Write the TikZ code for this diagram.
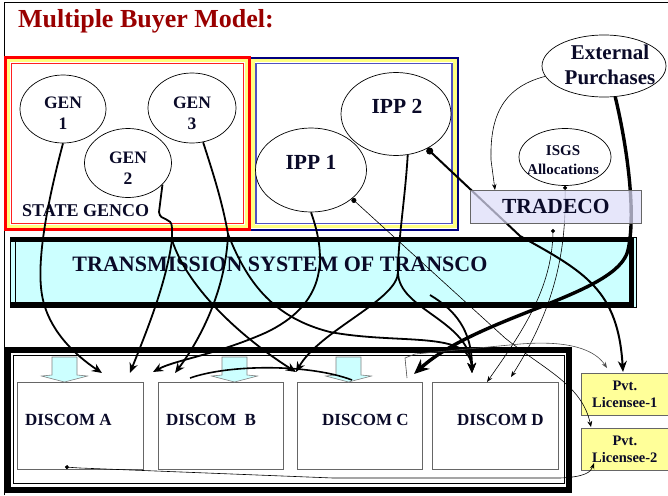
\documentclass[tikz,border=0pt]{standalone}
\usepackage{fontspec}
\setmainfont{Liberation Serif}
\usetikzlibrary{arrows.meta,shapes.geometric,calc}
\definecolor{titlered}{HTML}{990000}
\definecolor{ink}{HTML}{0A0A28}
\definecolor{cyanfill}{HTML}{CCFFFF}
\definecolor{paleyellow}{HTML}{FFFF99}
\definecolor{bandyellow}{HTML}{FFFF80}
\definecolor{lavender}{HTML}{DCDCF8}
\definecolor{navyline}{HTML}{000080}
\definecolor{blueline}{HTML}{5050C0}
\definecolor{framered}{HTML}{FF0000}
\definecolor{framepink}{HTML}{FF2020}
\begin{document}
\begin{tikzpicture}[x=1pt,y=-1pt,
  oval/.style={ellipse, draw=black, line width=0.7pt, fill=white, inner sep=0pt},
  lbl/.style={font=\bfseries, text=ink, align=center, inner sep=0pt},
  dbox/.style={draw=gray!80!black, line width=0.8pt, fill=white, minimum width=126pt, minimum height=87pt, anchor=north west, inner sep=0pt},
  pvt/.style={draw=gray!80!black, line width=0.7pt, fill=paleyellow, minimum width=87pt, minimum height=42pt, anchor=north west, inner sep=0pt, align=center, font=\fontsize{14.5}{17}\selectfont\bfseries, text=ink},
  trunk/.style={line width=1.8pt},
  conn/.style={line width=1.8pt, -{Stealth[length=10pt,width=8.5pt]}},
  bigconn/.style={line width=3.4pt, -{Stealth[length=15pt,width=13pt]}},
  thinconn/.style={line width=0.6pt, -{Stealth[length=6pt,width=4.5pt]}},
  blockarrow/.style={draw=gray, line width=0.6pt, fill=cyanfill}
]
\useasboundingbox (0,0) rectangle (668,495);
% outer frame
\draw[line width=0.8pt] (4,495) -- (4,2) -- (668,2);
% title
\node[anchor=base west, inner sep=0pt, text=titlered, font=\fontsize{26}{30}\selectfont\bfseries] (title) at (18,28) {Multiple Buyer Model:};

% IPP frame (blue)
\draw[line width=3.4pt, bandyellow] (253,60.5) rectangle (455,226.5);
\draw[line width=2pt, navyline] (250,57.5) rectangle (458,229.5);
\draw[line width=1.8pt, blueline] (256,63.5) rectangle (452,223.5);
% STATE GENCO frame (red)
\draw[line width=3.4pt, bandyellow] (8.5,60.5) rectangle (246.5,226.5);
\draw[line width=2.2pt, framered] (5.5,57.5) rectangle (249.5,229.5);
\draw[line width=1.8pt, framepink] (11.5,63.5) rectangle (243.5,223.5);

% generators
\node[oval, minimum width=86pt, minimum height=68pt] (gen1) at (63,109) {};
\node[oval, minimum width=88pt, minimum height=70pt] (gen3) at (192,108) {};
\node[oval, minimum width=87pt, minimum height=69pt] (gen2) at (128,163) {};
\node[lbl, font=\fontsize{17.5}{21}\selectfont\bfseries] (gen1t) at (63,113) {GEN\\1};
\node[lbl, font=\fontsize{17.5}{21}\selectfont\bfseries] (gen2t) at (128,168) {GEN\\2};
\node[lbl, font=\fontsize{17.5}{21}\selectfont\bfseries] (gen3t) at (192,113) {GEN\\3};
\node[anchor=base west, inner sep=0pt, text=ink, font=\fontsize{18}{21}\selectfont\bfseries] (genco) at (22,216) {STATE GENCO};

\node[oval, minimum width=111pt, minimum height=84pt] (ipp1) at (311,170) {};
\node[oval, minimum width=110pt, minimum height=83pt] (ipp2) at (396,114) {};
\node[lbl, font=\fontsize{21.5}{24}\selectfont\bfseries] (ipp1t) at (311,162) {IPP 1};
\node[lbl, font=\fontsize{21.5}{24}\selectfont\bfseries] (ipp2t) at (397,106) {IPP 2};

\node[oval, minimum width=124pt, minimum height=62pt] (ext) at (604,66) {};
\node[lbl, font=\fontsize{21}{25}\selectfont\bfseries] (extt) at (610,65) {External\\Purchases};
\node[oval, minimum width=92pt, minimum height=57pt] (isgs) at (565,157) {};
\node[lbl, font=\fontsize{15}{19}\selectfont\bfseries] (isgst) at (563,160) {ISGS\\Allocations};

% TRANSCO
\fill[cyanfill] (10,237) rectangle (636,307);
\draw[line width=0.6pt] (10,237) rectangle (636,307);
\draw[line width=5pt, line join=miter] (10,239.5) -- (631,239.5) -- (631,304.5) -- (10,304.5);
\draw[line width=0.6pt] (15,240) -- (15,305);
\node[lbl, font=\fontsize{22}{26}\selectfont\bfseries] (transco) at (280,264) {TRANSMISSION SYSTEM OF TRANSCO};

% DISCOM container
\draw[line width=6pt] (8,350) rectangle (569,490);
\draw[line width=0.8pt] (13,355) rectangle (564,483);
\node[dbox] (dA) at (17,382) {};
\node[dbox, minimum width=125pt] (dB) at (158,382) {};
\node[dbox, minimum width=125pt] (dC) at (297,382) {};
\node[dbox] (dD) at (432,382) {};
\node[anchor=base west, inner sep=0pt, text=ink, font=\fontsize{17}{20}\selectfont\bfseries] (dAt) at (25,425) {DISCOM A};
\node[anchor=base west, inner sep=0pt, text=ink, font=\fontsize{17}{20}\selectfont\bfseries] (dBt) at (166,425) {DISCOM\ \ B};
\node[anchor=base west, inner sep=0pt, text=ink, font=\fontsize{17}{20}\selectfont\bfseries] (dCt) at (322,425) {DISCOM C};
\node[anchor=base west, inner sep=0pt, text=ink, font=\fontsize{17}{20}\selectfont\bfseries] (dDt) at (457,425) {DISCOM D};
\foreach \cx in {64.5,234.5,348.5}{
  \draw[blockarrow] (\cx-12.5,357) -- (\cx+12.5,357) -- (\cx+12.5,375) -- (\cx+23,376) -- (\cx,382) -- (\cx-23,376) -- (\cx-12.5,375) -- cycle;
}

% private licensees
\node[pvt] (pl1) at (581,373) {Pvt.\\Licensee-1};
\node[pvt] (pl2) at (581,428) {Pvt.\\Licensee-2};

% connector points
\coordinate (tA1) at (102,373);
\coordinate (tA2) at (130,373);
\coordinate (tA3) at (153,372);
\coordinate (tB1) at (175,373);
\coordinate (tC1) at (296,372);
\coordinate (tC2) at (414,374);
\coordinate (tD1) at (472,373);
\coordinate (tD2) at (487,382);
\coordinate (tD3) at (511,377);
\coordinate (tL1a) at (607,368);
\coordinate (tL1b) at (623,372);
\coordinate (tL2a) at (591,427);
\coordinate (tL2b) at (594,463);
\coordinate (j2) at (172,240);
\coordinate (j3) at (228,234);
\coordinate (j4) at (398,272);
\coordinate (tT) at (495,190);
\coordinate (sT) at (553,229);
\coordinate (sA) at (65,467);
\coordinate (sC) at (407,378);
\coordinate (sX) at (430,295);
\coordinate (aB) at (190,378);
\coordinate (aC) at (352,380);

% connectors
\draw[conn] (gen1.south) .. controls (48,200) and (36,260) .. (42,295) .. controls (48,330) and (75,355) .. (tA1);
\draw[trunk] (gen2.-32) -- (159,212) .. controls (160,222) and (172,216) .. (172,228) -- (j2);
\draw[conn] (j2) .. controls (166,285) and (145,335) .. (tA2);
\draw[conn] (j2) .. controls (188,290) and (245,340) .. (tC1);
\draw[trunk] (gen3.-72) .. controls (212,170) and (222,200) .. (j3);
\draw[conn] (j3) .. controls (226,290) and (200,340) .. (tB1);
\draw[conn] (j3) .. controls (248,285) and (275,318) .. (330,332) .. controls (400,345) and (470,330) .. (tD1);
\draw[conn] (ipp1.south) .. controls (328,260) and (325,305) .. (265,333) .. controls (215,355) and (175,360) .. (tA3);
\draw[trunk] (ipp2.-74) .. controls (405,200) and (398,240) .. (j4);
\draw[conn] (j4) .. controls (398,310) and (470,320) .. (tD1);
\draw[conn] (j4) .. controls (398,300) and (320,330) .. (tC1);
\draw[conn] (sX) .. controls (455,310) and (472,330) .. (tD1);
\draw[line width=1.6pt] (aB) .. controls (230,364) and (310,364) .. (aC);
\draw[bigconn] (ext.-70) .. controls (628,150) and (636,215) .. (628,250) .. controls (618,295) and (480,315) .. (tC2);
\draw[line width=0.6pt, {Circle[length=5pt]}-{Stealth[length=6pt,width=5pt]}] (ipp1.-35) -- (505,338) .. controls (545,370) and (582,385) .. (tL2a);
\draw[line width=2pt, {Circle[length=7pt]}-{Stealth[length=11pt,width=9pt]}] (ipp2.-48) -- (520,236) .. controls (585,272) and (618,290) .. (tL1b);
\draw[thinconn] (ext.190) .. controls (500,88) and (490,120) .. (491,160) -- (tT);
\draw[line width=0.6pt, {Circle[length=4pt]}-{Stealth[length=6pt,width=4.5pt]}] (isgs.south) .. controls (566,240) and (560,300) .. (tD3);
\draw[line width=0.6pt, {Circle[length=4pt]}-{Stealth[length=6pt,width=4.5pt]}] (sT) .. controls (552,290) and (520,335) .. (tD2);
\draw[thinconn, draw=gray!60!black] (sC) -- (405,358) -- (415,354) -- (520,344) .. controls (570,340) and (595,350) .. (tL1a);
\draw[line width=0.6pt, {Circle[length=4pt]}-{Stealth[length=6pt,width=4.5pt]}] (sA) -- (80,468) -- (333,478) -- (560,478) .. controls (585,477) and (591,472) .. (tL2b);

% TRADECO on top
\node[draw=gray!80!black, line width=0.7pt, fill=lavender, fill opacity=0.72, text opacity=1, minimum width=171pt, minimum height=33pt, anchor=north west, inner sep=0pt, font=\fontsize{21.5}{24}\selectfont\bfseries, text=ink] (trd) at (470,190) {TRADECO};
\end{tikzpicture}
\end{document}
